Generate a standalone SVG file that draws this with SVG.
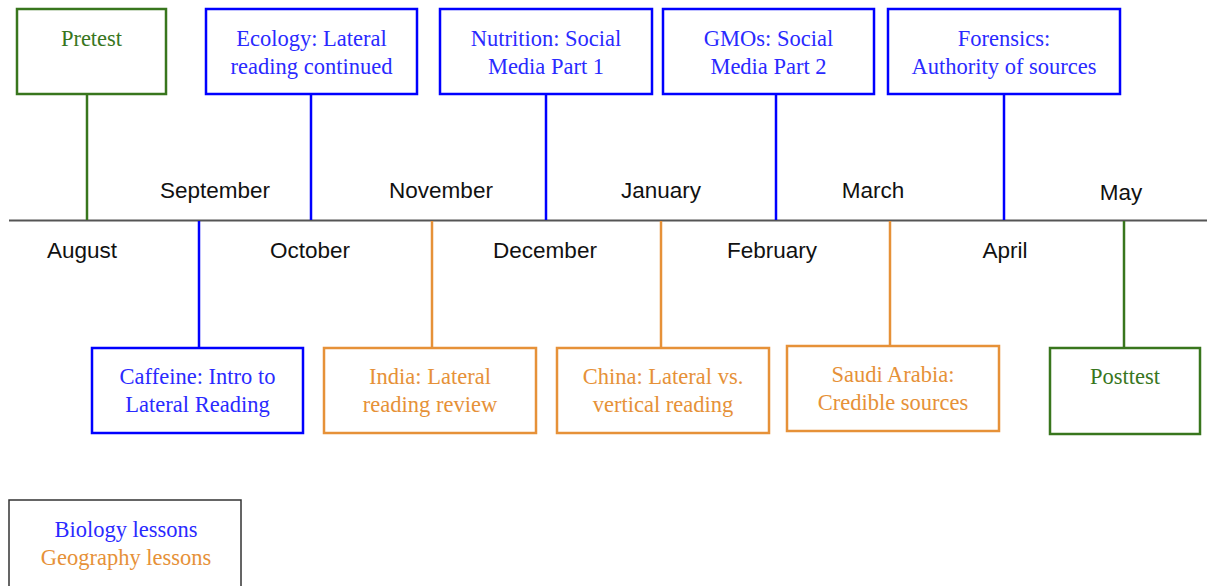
<svg xmlns="http://www.w3.org/2000/svg" width="1207" height="586" viewBox="0 0 1207 586">
<style>
.box{fill:#fff;stroke-width:2.5}
.bio{stroke:#0000ff}
.geo{stroke:#e69138}
.test{stroke:#38761d}
.t{font-family:"Liberation Serif","Times New Roman",serif;font-size:22.5px;text-anchor:middle}
.tb{fill:#2a2aff}
.tg{fill:#e69138}
.tt{fill:#38761d}
.m{font-family:"Liberation Sans",Arial,sans-serif;font-size:22.5px;text-anchor:middle;fill:#111}
.c{stroke-width:2.5;fill:none}
</style>
<rect width="1207" height="586" fill="#fff"/>
<g id="connectors">
<line x1="9" y1="220.5" x2="1207" y2="220.5" stroke="#555" stroke-width="2"/>
<line class="c test" x1="87" y1="94" x2="87" y2="220"/>
<line class="c bio" x1="311" y1="94" x2="311" y2="220"/>
<line class="c bio" x1="546" y1="94" x2="546" y2="220"/>
<line class="c bio" x1="776" y1="94" x2="776" y2="220"/>
<line class="c bio" x1="1004" y1="94" x2="1004" y2="220"/>
<line class="c bio" x1="199" y1="221" x2="199" y2="348"/>
<line class="c geo" x1="432" y1="221" x2="432" y2="348"/>
<line class="c geo" x1="661" y1="221" x2="661" y2="348"/>
<line class="c geo" x1="890" y1="221" x2="890" y2="346"/>
<line class="c test" x1="1124" y1="221" x2="1124" y2="348"/>
</g>
<g id="months">
<text class="m" x="215" y="198">September</text>
<text class="m" x="441" y="198">November</text>
<text class="m" x="661" y="198">January</text>
<text class="m" x="873" y="198">March</text>
<text class="m" x="1121" y="200">May</text>
<text class="m" x="82" y="258">August</text>
<text class="m" x="310" y="258">October</text>
<text class="m" x="545" y="258">December</text>
<text class="m" x="772" y="258">February</text>
<text class="m" x="1005" y="258">April</text>
</g>
<g id="pretest">
<rect class="box test" x="17" y="9" width="149" height="85"/>
<text class="t tt" x="91.5" y="46">Pretest</text>
</g>
<g id="ecology">
<rect class="box bio" x="206" y="9" width="211" height="85"/>
<text class="t tb" x="311.5" y="46">Ecology: Lateral</text>
<text class="t tb" x="311.5" y="74">reading continued</text>
</g>
<g id="nutrition">
<rect class="box bio" x="440" y="9" width="212" height="85"/>
<text class="t tb" x="546" y="46">Nutrition: Social</text>
<text class="t tb" x="546" y="74">Media Part 1</text>
</g>
<g id="gmos">
<rect class="box bio" x="663" y="9" width="211" height="85"/>
<text class="t tb" x="768.5" y="46">GMOs: Social</text>
<text class="t tb" x="768.5" y="74">Media Part 2</text>
</g>
<g id="forensics">
<rect class="box bio" x="888" y="9" width="232" height="85"/>
<text class="t tb" x="1004" y="46">Forensics:</text>
<text class="t tb" x="1004" y="74">Authority of sources</text>
</g>
<g id="caffeine">
<rect class="box bio" x="92" y="348" width="211" height="85"/>
<text class="t tb" x="197.5" y="384">Caffeine: Intro to</text>
<text class="t tb" x="197.5" y="412">Lateral Reading</text>
</g>
<g id="india">
<rect class="box geo" x="324" y="348" width="212" height="85"/>
<text class="t tg" x="430" y="384">India: Lateral</text>
<text class="t tg" x="430" y="412">reading review</text>
</g>
<g id="china">
<rect class="box geo" x="557" y="348" width="212" height="85"/>
<text class="t tg" x="663" y="384">China: Lateral vs.</text>
<text class="t tg" x="663" y="412">vertical reading</text>
</g>
<g id="saudi">
<rect class="box geo" x="787" y="346" width="212" height="85"/>
<text class="t tg" x="893" y="382">Saudi Arabia:</text>
<text class="t tg" x="893" y="410">Credible sources</text>
</g>
<g id="posttest">
<rect class="box test" x="1050" y="348" width="150" height="86"/>
<text class="t tt" x="1125" y="384">Posttest</text>
</g>
<g id="legend">
<rect x="9" y="500" width="232" height="100" fill="#fff" stroke="#333" stroke-width="1.5"/>
<text class="t tb" x="126" y="537">Biology lessons</text>
<text class="t tg" x="126" y="565">Geography lessons</text>
</g>
</svg>
